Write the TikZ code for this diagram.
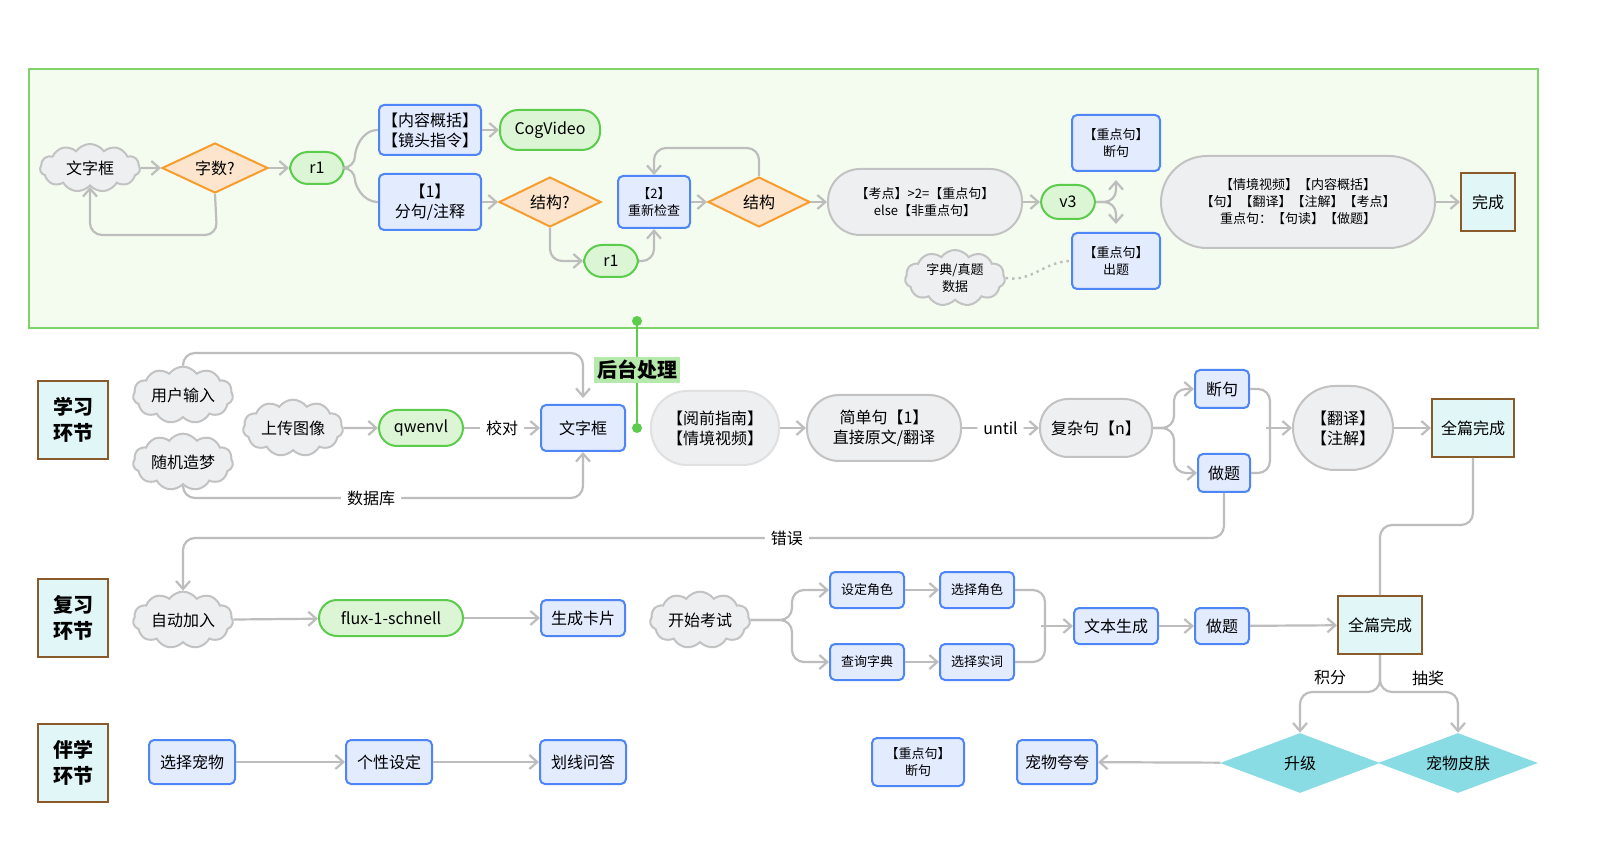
\documentclass[tikz,border=0pt]{standalone}
\usepackage{fontspec}
\setmainfont{Noto Sans CJK SC}
\usetikzlibrary{shapes.geometric,shapes.symbols,arrows.meta,calc}
\definecolor{bbf}{HTML}{E3EBFF}\definecolor{bbd}{HTML}{4F86F7}
\definecolor{gbf}{HTML}{DCF5D5}\definecolor{gbd}{HTML}{5CCC4D}
\definecolor{obf}{HTML}{FDE4CC}\definecolor{obd}{HTML}{F79D2E}
\definecolor{pf}{HTML}{EEEFF1}\definecolor{pd}{HTML}{C2C2C2}
\definecolor{cf}{HTML}{E0F6F7}\definecolor{cd}{HTML}{8B5A2B}
\definecolor{df}{HTML}{8ADCE4}\definecolor{ln}{HTML}{BDBDBD}
\definecolor{panel}{HTML}{F4FCF0}\definecolor{paneld}{HTML}{7FD36B}
\begin{document}
\begin{tikzpicture}[x=0.5pt,y=-0.5pt,
 every node/.style={font=\fontsize{8}{10}\selectfont,align=center,inner sep=1pt},
 bbox/.style={draw=bbd,fill=bbf,line width=1pt,rounded corners=2.5pt},
 gbox/.style={draw=gbd,fill=gbf,line width=1pt,rounded corners=9pt},
 dia/.style={diamond,draw=obd,fill=obf,line width=1pt,aspect=2.1,inner sep=0pt},
 pill/.style={draw=pd,fill=pf,line width=1pt,rounded corners=16pt},
 fin/.style={draw=cd,fill=cf,line width=1pt},
 cld/.style={cloud,cloud puffs=11,cloud puff arc=110,aspect=2,draw=pd,fill=pf,line width=1pt,inner sep=0pt},
 cdia/.style={diamond,fill=df,aspect=2.7,inner sep=0pt,minimum width=80pt,minimum height=30pt},
 lbl/.style={fin,font=\fontsize{10}{13}\selectfont\bfseries,minimum width=35pt,minimum height=39pt},
 ar/.style={draw=ln,line width=1.1pt,-{Straight Barb[length=4pt,width=7pt]},rounded corners=6pt},
 li/.style={draw=ln,line width=1.1pt,rounded corners=6pt},
 small/.style={font=\fontsize{6.5}{8.5}\selectfont}]
\useasboundingbox (0,0) rectangle (1600,849);
\fill[white] (0,0) rectangle (1600,849);
% panel
\draw[paneld,fill=panel,line width=0.8pt] (29,69) rectangle (1538,328);
% top row
\node[cld,minimum width=50pt,minimum height=24pt] (t1) at (90,168) {文字框};
\node[dia,minimum width=53pt,minimum height=25pt] (t2) at (215,168) {字数?};
\node[gbox,minimum width=27pt,minimum height=16pt] (t3) at (317,168) {r1};
\node[bbox,minimum width=51pt,minimum height=25pt] (t4) at (430,130) {【内容概括】\\【镜头指令】};
\node[gbox,minimum width=50pt,minimum height=20pt] (t5) at (550,130) {CogVideo};
\node[bbox,minimum width=51pt,minimum height=28pt] (t6) at (430,202) {【1】\\分句/注释};
\node[dia,minimum width=51pt,minimum height=25pt] (t7) at (550,202) {结构?};
\node[bbox,minimum width=36pt,minimum height=26pt,small] (t8) at (654,202) {【2】\\重新检查};
\node[dia,minimum width=51pt,minimum height=25pt] (t9) at (759,202) {结构};
\node[gbox,minimum width=27pt,minimum height=16pt] (t10) at (611,261) {r1};
\node[pill,minimum width=97pt,minimum height=33pt,small] (t11) at (925,202) {【考点】>2=【重点句】\\else【非重点句】};
\node[gbox,minimum width=27pt,minimum height=17pt] (t12) at (1068,202) {v3};
\node[bbox,minimum width=44pt,minimum height=28pt,small] (t13) at (1116,143) {【重点句】\\断句};
\node[bbox,minimum width=44pt,minimum height=28pt,small] (t14) at (1116,261) {【重点句】\\出题};
\node[cld,minimum width=50pt,minimum height=28pt,small] (t15) at (955,278) {字典/真题\\数据};
\node[pill,minimum width=137pt,minimum height=46pt,rounded corners=23pt,small] (t16) at (1298,202) {【情境视频】【内容概括】\\【句】【翻译】【注解】【考点】\\重点句：【句读】【做题】};
\node[fin,minimum width=27pt,minimum height=29pt] (t17) at (1488,202) {完成};
\draw[ar] (t1) -- (t2);
\draw[ar] (t2) -- (t3);
\draw[ar] (t2.south) -- (217,235) -- (90,235) -- (t1.south);
\draw[li] (t3.east) -- (355,168) to[out=90,in=180] (t4.west);
\draw[li] (t3.east) -- (355,168) to[out=-90,in=180] (t6.west);
\draw[ar] (t4) -- (t5);
\draw[ar] (t6) -- (t7);
\draw[ar] (t7.south) -- (550,261) -- (t10.west);
\draw[ar] (t10.east) -- (654,261) -- (t8.south);
\draw[ar] (t8) -- (t9);
\draw[ar] (t9.north) -- (759,148) -- (654,148) -- (t8.north);
\draw[ar] (t9) -- (t11);
\draw[ar] (t11) -- (t12);
\draw[ar] (t12.east) -| ($(t13.south)+(0,8)$);
\draw[ar] (t12.east) -| ($(t14.north)+(0,-8)$);
\draw[ln,line width=1.2pt,dotted] (t15.east) to[out=-10,in=180] (t14.west);
\draw[ar] (t16) -- (t17);
% backend
\coordinate (g1) at (637,321);
\coordinate (g2) at (637,428);
\draw[gbd,line width=1.2pt] (g1) -- (g2);
\fill[gbd] (g1) circle (5); \fill[gbd] (g2) circle (5);
\node[fill=gbf!70!gbd,font=\fontsize{10}{13}\selectfont\bfseries,inner sep=1.5pt] (bk) at (637,370) {后台处理};
% row labels
\node[lbl] (L1) at (73,420) {学习\\环节};
\node[lbl] (L2) at (73,618) {复习\\环节};
\node[lbl] (L3) at (73,763) {伴学\\环节};
% learning row
\node[cld,minimum width=50pt,minimum height=22pt] (m1) at (183,395) {用户输入};
\node[cld,minimum width=50pt,minimum height=22pt] (m2) at (183,462) {随机造梦};
\node[cld,minimum width=50pt,minimum height=24pt] (m3) at (293,428) {上传图像};
\node[gbox,minimum width=42pt,minimum height=18pt] (m4) at (421,428) {qwenvl};
\node[bbox,minimum width=42pt,minimum height=23pt] (m5) at (583,428) {文字框};
\node[pill,minimum width=64pt,minimum height=37pt,draw=pd!50,rounded corners=18pt] (m6) at (715,428) {【阅前指南】\\【情境视频】};
\node[pill,minimum width=77pt,minimum height=33pt] (m7) at (884,428) {简单句【1】\\直接原文/翻译};
\node[pill,minimum width=56pt,minimum height=29pt,rounded corners=14pt] (m8) at (1096,428) {复杂句【n】};
\node[bbox,minimum width=27pt,minimum height=19pt] (m9) at (1222,389) {断句};
\node[bbox,minimum width=26pt,minimum height=19pt] (m10) at (1224,473) {做题};
\node[pill,minimum width=50pt,minimum height=42pt,rounded corners=21pt] (m11) at (1343,428) {【翻译】\\【注解】};
\node[fin,minimum width=41pt,minimum height=29pt] (m12) at (1473,428) {全篇完成};
\draw[ar] (m1.north) -- (183,353) -- (583,353) -- (583,398);
\draw[ar] (m2.south) -- (183,498) -- node[pos=0.47,fill=white,inner sep=3pt] {数据库} (583,498) -- (m5.south);
\draw[ar] (m3) -- (m4);
\draw[ar] (m4) -- node[fill=white,inner sep=3pt] {校对} (m5);
\draw[ar] (m6) -- (m7);
\draw[ar] (m7) -- node[fill=white,inner sep=3pt] {until} (m8);
\draw[ar] (m8.east) -- (1174,428) |- (m9.west);
\draw[ar] (m8.east) -- (1174,428) |- (m10.west);
\draw[li] (m9.east) -| (1270,428);
\draw[li] (m10.east) -| (1270,428);
\draw[ar] (1266,428) -- (m11.west);
\draw[ar] (m11) -- (m12);
% review row
\node[cld,minimum width=50pt,minimum height=22pt] (r1) at (183,620) {自动加入};
\node[gbox,minimum width=72pt,minimum height=18pt] (r2) at (391,618) {flux-1-schnell};
\node[bbox,minimum width=42pt,minimum height=18pt] (r3) at (583,618) {生成卡片};
\node[cld,minimum width=50pt,minimum height=24pt] (r4) at (700,620) {开始考试};
\node[bbox,minimum width=37pt,minimum height=18pt,small] (r5) at (867,590) {设定角色};
\node[bbox,minimum width=37pt,minimum height=18pt,small] (r6) at (977,590) {选择角色};
\node[bbox,minimum width=37pt,minimum height=18pt,small] (r7) at (867,662) {查询字典};
\node[bbox,minimum width=37pt,minimum height=18pt,small] (r8) at (977,662) {选择实词};
\node[bbox,minimum width=42pt,minimum height=18pt] (r9) at (1116,626) {文本生成};
\node[bbox,minimum width=27pt,minimum height=18pt] (r10) at (1222,626) {做题};
\node[fin,minimum width=42pt,minimum height=29pt] (r11) at (1380,625) {全篇完成};
\node[cdia] (r12) at (1300,763) {升级};
\node[cdia] (r13) at (1458,763) {宠物皮肤};
\draw[ar] (m10.south) -- (1224,538) -- node[pos=0.42,fill=white,inner sep=3pt] {错误} (183,538) -- (r1.north);
\draw[li] (m12.south) -- (1473,525) -- (1380,525) -- (r11.north);
\draw[ar] (r1) -- (r2);
\draw[ar] (r2) -- (r3);
\draw[ar] (r4.east) -- (792,620) |- (r5.west);
\draw[ar] (r4.east) -- (792,620) |- (r7.west);
\draw[ar] (r5) -- (r6);
\draw[ar] (r7) -- (r8);
\draw[li] (r6.east) -| (1045,626);
\draw[li] (r8.east) -| (1045,626);
\draw[ar] (1041,626) -- (r9.west);
\draw[ar] (r9) -- (r10);
\draw[ar] (r10) -- (r11);
\draw[ar] (r11.south) -- (1380,692) -| (r12.north);
\draw[ar] (r11.south) -- (1380,692) -| (r13.north);
\node at (1330,678) {积分};
\node at (1428,678) {抽奖};
% companion row
\node[bbox,minimum width=43pt,minimum height=22pt] (c1) at (192,762) {选择宠物};
\node[bbox,minimum width=43pt,minimum height=22pt] (c2) at (389,762) {个性设定};
\node[bbox,minimum width=43pt,minimum height=22pt] (c3) at (583,762) {划线问答};
\node[bbox,minimum width=46pt,minimum height=24pt,small] (c4) at (918,762) {【重点句】\\断句};
\node[bbox,minimum width=40pt,minimum height=22pt] (c5) at (1057,762) {宠物夸夸};
\draw[ar] (c1) -- (c2);
\draw[ar] (c2) -- (c3);
\draw[ar] (r12) -- (c5);
\end{tikzpicture}
\end{document}
